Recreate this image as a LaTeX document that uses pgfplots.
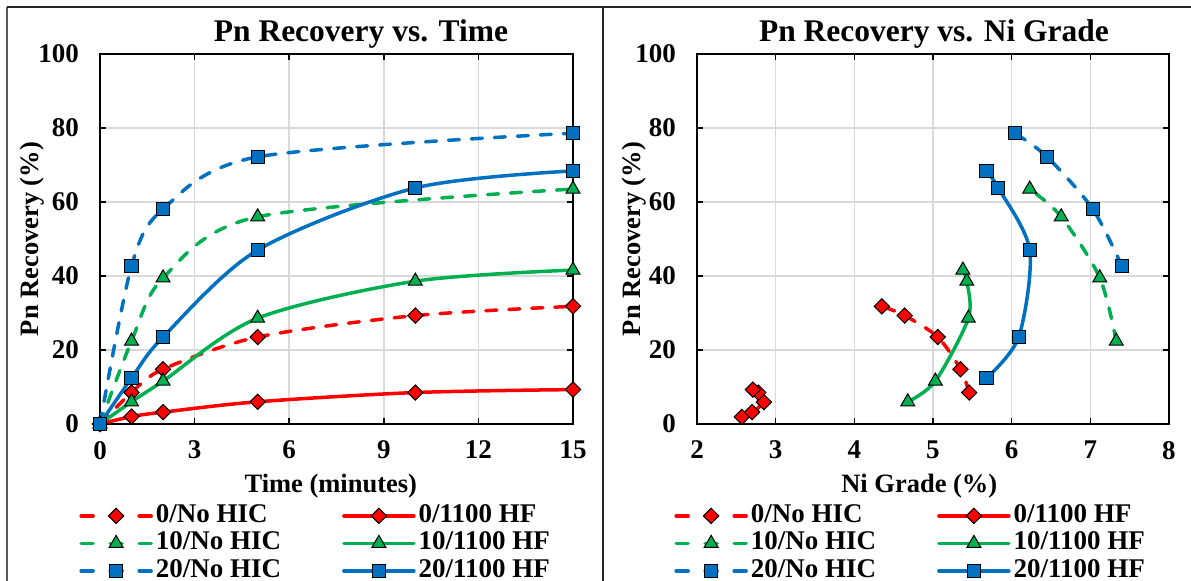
\documentclass[border=0pt]{standalone}
\usepackage{fontspec}
\setmainfont{Liberation Serif}
\usepackage{pgfplots}
\pgfplotsset{compat=1.18}
\definecolor{cred}{HTML}{FF0000}
\definecolor{cgreen}{HTML}{00B050}
\definecolor{cblue}{HTML}{0070C0}
\definecolor{gridc}{HTML}{D9D9D9}
\newcommand{\fs}{\bfseries\fontsize{13.25}{14}\selectfont}
\newcommand{\fsl}{\bfseries\fontsize{13.5}{14}\selectfont}
\newcommand{\fsk}{\bfseries\fontsize{13.5}{14}\selectfont}
\newcommand{\fst}{\bfseries\fontsize{15.75}{17}\selectfont}
\pgfplotsset{
  dleg/.style={legend image code/.code={\draw[mark repeat=2,mark phase=2,##1,dash pattern=on 6pt off 8.5pt] plot coordinates {(0pt,0pt) (17.5pt,0pt) (35pt,0pt)};}},
  sleg/.style={legend image code/.code={\draw[mark repeat=2,mark phase=2,##1] plot coordinates {(0pt,0pt) (17.5pt,0pt) (35pt,0pt)};}},
  mred/.style={mark=square*, mark options={rotate=45, fill=cred, draw=black, line width=0.5pt, solid, mark size=2.7pt}},
  mgreen/.style={mark=triangle*, mark options={fill=cgreen, draw=black, line width=0.5pt, solid, mark size=4pt}},
  mblue/.style={mark=square*, mark options={fill=cblue, draw=black, line width=0.5pt, solid, mark size=3.3pt}},
  dsty/.style={smooth, line width=1.75pt, line cap=round, dash pattern=on 5.5pt off 6pt, dleg},
  ssty/.style={smooth, line width=1.75pt, line cap=round, sleg},
  myaxis/.style={
    scale only axis, anchor=south west, height=185pt, clip=false,
    ymin=0, ymax=100, ytick={0,20,...,100},
    grid=major, grid style={draw=gridc, line width=0.75pt},
    axis line style={line width=0.75pt, black},
    tick style={line width=0.75pt, black}, major tick length=3pt,
    tick label style={font=\fsk}, /pgf/number format/assume math mode=true,
    xticklabel style={yshift=-5pt}, yticklabel style={xshift=-7pt},
    label style={font=\fs},
    legend columns=2, legend cell align=left,
    legend style={draw=none, fill=none, font=\fsl, anchor=north west, inner sep=0pt,
      row sep=0pt, nodes={text height=9pt, text depth=2.5pt, inner ysep=1.125pt, inner xsep=1.5pt},
      /tikz/every even column/.append style={column sep=29pt}},
  },
}
\begin{document}
\begin{tikzpicture}
\useasboundingbox (0,0) rectangle (595.5pt,290.5pt);
\draw[line width=1pt, color=black!65] (3.5pt,0pt) -- (3.5pt,287pt);
\draw[line width=1pt, color=black!85] (3.5pt,287pt) -- (595.5pt,287pt);
\draw[line width=1pt, color=black!85] (301.5pt,0pt) -- (301.5pt,287pt);
\node[font=\fst, anchor=base] at (180.5pt,269.5pt) {Pn Recovery vs. Time};
\node[font=\fst, anchor=base] at (467pt,269.5pt) {Pn Recovery vs. Ni Grade};
\begin{axis}[myaxis, at={(50pt,78.5pt)}, width=236.5pt,
  xmin=0, xmax=15, xtick={0,3,...,15},
  xlabel={Time (minutes)}, ylabel={Pn Recovery (\%)},
  xlabel style={at={(axis description cs:0.488,-0.186)}, anchor=base},
  ylabel style={at={(axis description cs:-0.129,0.5)}, anchor=base, rotate=0},
  legend style={at={(axis description cs:-0.0444,-0.21)}},
]
\addplot[cred, dsty, mred] coordinates {(0,0)(1,8.5)(2,14.8)(5,23.5)(10,29.3)(15,31.8)};
\addlegendentry{0/No HIC}
\addplot[cred, ssty, mred] coordinates {(0,0)(1,2)(2,3.2)(5,6)(10,8.5)(15,9.3)};
\addlegendentry{0/1100 HF}
\addplot[cgreen, dsty, mgreen] coordinates {(0,0)(1,22.4)(2,39.5)(5,56)(15,63.5)};
\addlegendentry{10/No HIC}
\addplot[cgreen, ssty, mgreen] coordinates {(0,0)(1,6)(2,11.6)(5,28.6)(10,38.6)(15,41.6)};
\addlegendentry{10/1100 HF}
\addplot[cblue, dsty, mblue] coordinates {(0,0)(1,42.7)(2,58.1)(5,72.2)(15,78.6)};
\addlegendentry{20/No HIC}
\addplot[cblue, ssty, mblue] coordinates {(0,0)(1,12.4)(2,23.5)(5,47)(10,63.8)(15,68.4)};
\addlegendentry{20/1100 HF}
\end{axis}
\begin{axis}[myaxis, at={(348.5pt,78.5pt)}, width=236pt,
  xmin=2, xmax=8, xtick={2,3,...,8},
  xlabel={Ni Grade (\%)}, ylabel={Pn Recovery (\%)},
  xlabel style={at={(axis description cs:0.471,-0.186)}, anchor=base},
  ylabel style={at={(axis description cs:-0.119,0.5)}, anchor=base},
  legend style={at={(axis description cs:-0.0487,-0.21)}},
]
\addplot[cred, dsty, mred] coordinates {(5.46,8.5)(5.35,14.8)(5.06,23.5)(4.64,29.3)(4.35,31.8)};
\addlegendentry{0/No HIC}
\addplot[cred, ssty, mred] coordinates {(2.57,1.9)(2.70,3.2)(2.85,5.9)(2.78,8.5)(2.71,9.3)};
\addlegendentry{0/1100 HF}
\addplot[cgreen, dsty, mgreen] coordinates {(7.33,22.4)(7.12,39.5)(6.63,56)(6.23,63.5)};
\addlegendentry{10/No HIC}
\addplot[cgreen, ssty, mgreen] coordinates {(4.68,6)(5.03,11.6)(5.45,28.6)(5.43,38.6)(5.38,41.6)};
\addlegendentry{10/1100 HF}
\addplot[cblue, dsty, mblue] coordinates {(7.40,42.7)(7.03,58.1)(6.45,72.2)(6.04,78.6)};
\addlegendentry{20/No HIC}
\addplot[cblue, ssty, mblue] coordinates {(5.68,12.4)(6.09,23.5)(6.23,47)(5.83,63.8)(5.68,68.4)};
\addlegendentry{20/1100 HF}
\end{axis}
\end{tikzpicture}
\end{document}
